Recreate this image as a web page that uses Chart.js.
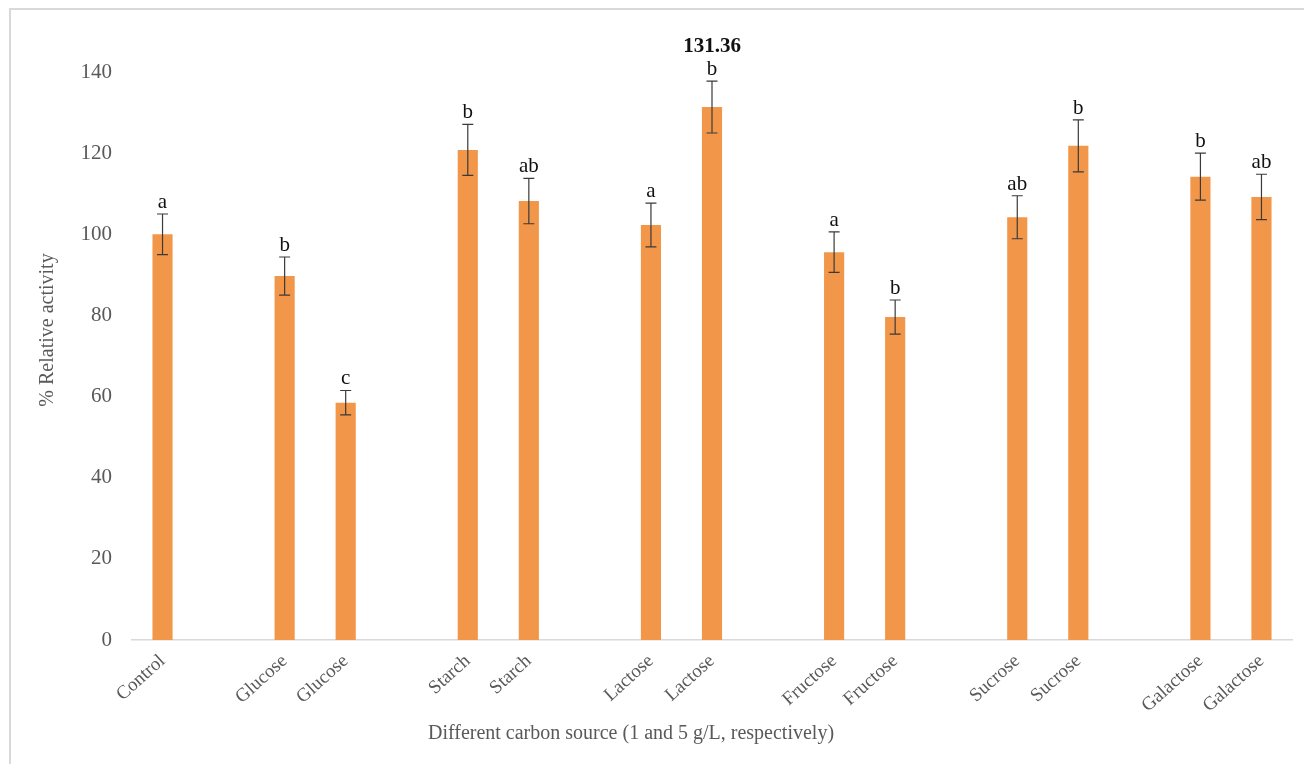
<!DOCTYPE html>
<html>
<head>
<meta charset="utf-8">
<title>Relative activity by carbon source</title>
<script src="https://cdn.jsdelivr.net/npm/chart.js@4/dist/chart.umd.min.js"></script>
<style>
    html, body { margin: 0; padding: 0; background: #fff; }
    #wrap { position: relative; width: 1304px; height: 764px; }
</style>
</head>
<body>
<div id="wrap"><canvas id="activityChart" width="1304" height="764"></canvas></div>
<script>
// Données (empty slots separate the carbon sources)
const categories = ['Control', '', 'Glucose', 'Glucose', '', 'Starch', 'Starch', '', 'Lactose', 'Lactose', '',
    'Fructose', 'Fructose', '', 'Sucrose', 'Sucrose', '', 'Galactose', 'Galactose'];
const activity = [100, null, 89.7, 58.5, null, 120.8, 108.2, null, 102.3, 131.36, null,
    95.6, 79.6, null, 104.2, 121.8, null, 114.2, 109.2];
const errors = [5.0, null, 4.7, 3.0, null, 6.3, 5.6, null, 5.4, 6.4, null,
    5.0, 4.2, null, 5.3, 6.4, null, 5.8, 5.6];
const letters = ['a', '', 'b', 'c', '', 'b', 'ab', '', 'a', 'b', '',
    'a', 'b', '', 'ab', 'b', '', 'b', 'ab'];
const yMin = 0;
const yMax = 140;
const yStep = 20;

const serif = '"Liberation Serif", "Times New Roman", serif';
const barColor = '#F2974A';
const tickColor = '#595959';

// Cadre gris clair (haut et gauche)
const framePlugin = {
    id: 'frame',
    beforeDraw(chart) {
        const ctx = chart.ctx;
        ctx.save();
        ctx.strokeStyle = '#d9d9d9';
        ctx.lineWidth = 2;
        ctx.beginPath();
        ctx.moveTo(10, chart.height);
        ctx.lineTo(10, 9);
        ctx.lineTo(chart.width, 9);
        ctx.stroke();
        ctx.restore();
    }
};

// Barres d'erreur + lettres de significativité
const errorBarPlugin = {
    id: 'errorBars',
    afterDatasetsDraw(chart) {
        const ctx = chart.ctx;
        const yScale = chart.scales.y;
        const meta = chart.getDatasetMeta(0);
        const maxIndex = activity.indexOf(Math.max(...activity.filter(v => v !== null)));

        ctx.save();
        meta.data.forEach((bar, i) => {
            const v = activity[i];
            if (v === null) return;
            const e = errors[i];
            const x = bar.x;
            const top = yScale.getPixelForValue(v + e);
            const bottom = yScale.getPixelForValue(v - e);

            ctx.strokeStyle = '#3a3a3a';
            ctx.lineWidth = 1.2;
            ctx.beginPath();
            ctx.moveTo(x, top);
            ctx.lineTo(x, bottom);
            ctx.moveTo(x - 5.5, top);
            ctx.lineTo(x + 5.5, top);
            ctx.moveTo(x - 5.5, bottom);
            ctx.lineTo(x + 5.5, bottom);
            ctx.stroke();

            ctx.fillStyle = '#111';
            ctx.textAlign = 'center';
            ctx.textBaseline = 'alphabetic';
            ctx.font = '21px ' + serif;
            ctx.fillText(letters[i], x, top - 6);

            if (i === maxIndex) {
                ctx.font = 'bold 21px ' + serif;
                ctx.fillText(v.toFixed(2), x, top - 29);
            }
        });
        ctx.restore();
    }
};

// Titres des axes placés comme sur la figure
const axisTitlePlugin = {
    id: 'axisTitles',
    afterDraw(chart) {
        const ctx = chart.ctx;
        ctx.save();
        ctx.fillStyle = tickColor;
        ctx.font = '20px ' + serif;
        ctx.textAlign = 'center';
        ctx.textBaseline = 'middle';
        ctx.fillText('Different carbon source (1 and 5 g/L, respectively)', 631, 734);

        ctx.translate(48, 330);
        ctx.rotate(-Math.PI / 2);
        ctx.fillText('% Relative activity', 0, 0);
        ctx.restore();
    }
};

const ctx = document.getElementById('activityChart').getContext('2d');

new Chart(ctx, {
    type: 'bar',
    data: {
        labels: categories,
        datasets: [{
            label: '% Relative activity',
            data: activity,
            backgroundColor: barColor,
            borderWidth: 0,
            barPercentage: 0.33,
            categoryPercentage: 1.0
        }]
    },
    options: {
        responsive: false,
        animation: false,
        events: [],
        layout: {
            padding: { top: 72, right: 12, bottom: 0, left: 0 }
        },
        plugins: {
            legend: { display: false },
            tooltip: { enabled: false },
            title: { display: false }
        },
        scales: {
            x: {
                grid: { display: false, drawTicks: false },
                border: { display: true, color: '#d9d9d9', width: 1.5 },
                ticks: {
                    color: tickColor,
                    font: { family: serif, size: 19 },
                    minRotation: 42,
                    maxRotation: 42,
                    autoSkip: false,
                    padding: 10
                },
                afterFit(scale) {
                    scale.height = 124;
                }
            },
            y: {
                min: yMin,
                max: yMax,
                grid: { display: false, drawTicks: false },
                border: { display: false },
                ticks: {
                    stepSize: yStep,
                    color: tickColor,
                    font: { family: serif, size: 21 },
                    padding: 20
                },
                afterFit(scale) {
                    scale.width = 132;
                }
            }
        }
    },
    plugins: [framePlugin, errorBarPlugin, axisTitlePlugin]
});
</script>
</body>
</html>
